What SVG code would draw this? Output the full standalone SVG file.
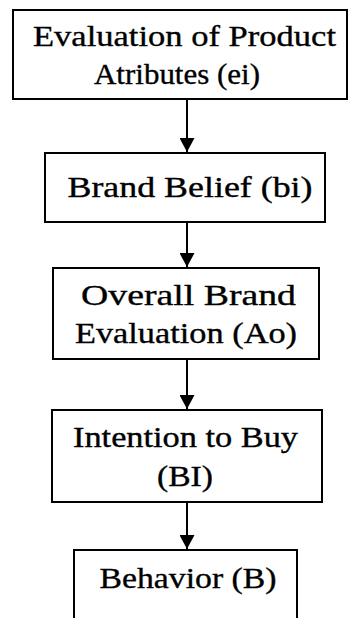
<svg xmlns="http://www.w3.org/2000/svg" width="351" height="618" viewBox="0 0 351 618">
<style>
.box{fill:#fff;stroke:#000;stroke-width:2}
.lbl{font-family:"Liberation Serif","Times New Roman",serif;font-size:30px;fill:#000;stroke:#000;stroke-width:0.35;text-anchor:middle}
.edge{stroke:#000;stroke-width:2;fill:none}
</style>
<defs>
<marker id="ah" markerUnits="userSpaceOnUse" markerWidth="16" markerHeight="15" refX="14" refY="7.5" orient="auto">
<path d="M0,0 L14,7.5 L0,15 Z" fill="#000"/>
</marker>
</defs>
<rect width="351" height="618" fill="#fff"/>
<g id="connectors">
<line class="edge" x1="187" y1="99" x2="187" y2="152" marker-end="url(#ah)"/>
<line class="edge" x1="187" y1="222" x2="187" y2="267" marker-end="url(#ah)"/>
<line class="edge" x1="187" y1="359" x2="187" y2="409" marker-end="url(#ah)"/>
<line class="edge" x1="187" y1="502" x2="187" y2="549" marker-end="url(#ah)"/>
</g>
<g id="n1">
<rect class="box" x="13" y="10" width="334" height="89"/>
<text class="lbl" x="184.5" y="46" textLength="303" lengthAdjust="spacingAndGlyphs">Evaluation of Product</text>
<text class="lbl" x="177" y="84" textLength="166" lengthAdjust="spacingAndGlyphs">Atributes (ei)</text>
</g>
<g id="n2">
<rect class="box" x="45" y="153" width="280" height="69"/>
<text class="lbl" x="190" y="197" textLength="245" lengthAdjust="spacingAndGlyphs">Brand Belief (bi)</text>
</g>
<g id="n3">
<rect class="box" x="53" y="268" width="266" height="91"/>
<text class="lbl" x="188.5" y="305" textLength="215" lengthAdjust="spacingAndGlyphs">Overall Brand</text>
<text class="lbl" x="186" y="343" textLength="222" lengthAdjust="spacingAndGlyphs">Evaluation (Ao)</text>
</g>
<g id="n4">
<rect class="box" x="52" y="410" width="270" height="92"/>
<text class="lbl" x="185.5" y="447" textLength="225" lengthAdjust="spacingAndGlyphs">Intention to Buy</text>
<text class="lbl" x="185" y="486" textLength="56" lengthAdjust="spacingAndGlyphs">(BI)</text>
</g>
<g id="n5">
<path class="box" d="M74,618 V550 H297 V618"/>
<text class="lbl" x="188" y="588" textLength="177" lengthAdjust="spacingAndGlyphs">Behavior (B)</text>
</g>
</svg>
